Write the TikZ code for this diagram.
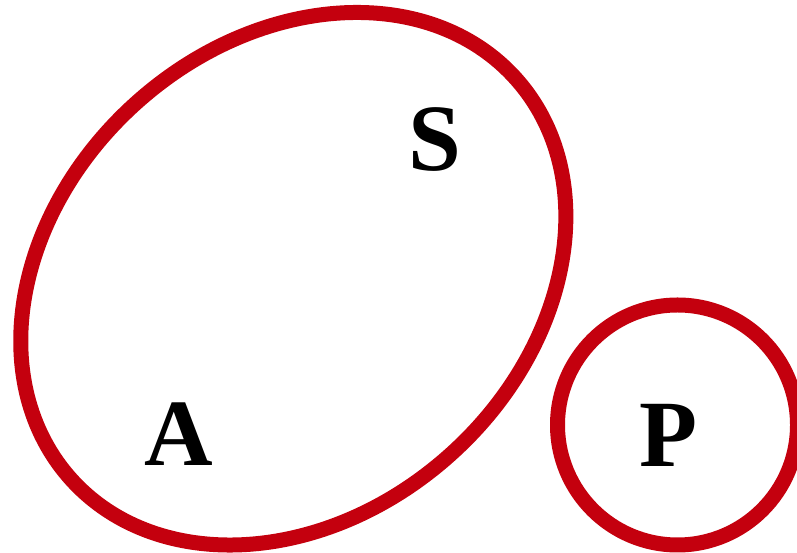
\documentclass[tikz,border=0pt]{standalone}
\usepackage{fontspec}
\setmainfont{Liberation Serif}
\definecolor{setred}{RGB}{196,0,14}
\begin{document}
\begin{tikzpicture}[x=1pt,y=1pt,
  setline/.style={draw=setred,line width=15pt},
  setlabel/.style={anchor=base,inner sep=0pt,font=\fontsize{95}{95}\selectfont\bfseries}]
\useasboundingbox (0,0) rectangle (797,553);
\clip (0,0) rectangle (797,553);
\fill[white] (0,0) rectangle (797,553);
\draw[setline,rotate around={42.15:(293.3,274.25)}] (293.3,274.25) ellipse (299.3 and 235.8);
\draw[setline] (677.5,128) circle (120);
\node[setlabel] (S) at (435,382) {S};
\node[setlabel] (A) at (179,87) {A};
\node[setlabel] (P) at (669,86) {P};
\end{tikzpicture}
\end{document}
